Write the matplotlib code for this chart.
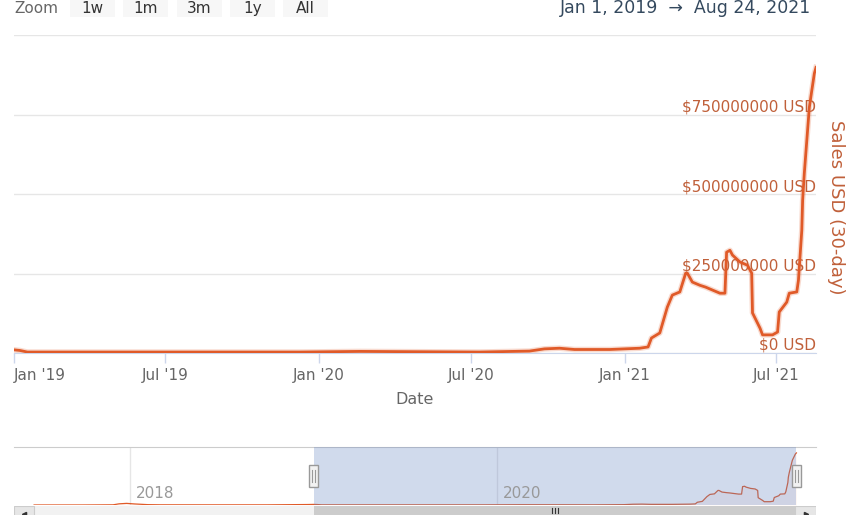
import matplotlib
matplotlib.use("Agg")
import matplotlib.pyplot as plt
import matplotlib.dates as mdates
from matplotlib.patches import Rectangle
import pandas as pd
import numpy as np

plt.rcParams['font.family'] = ['DejaVu Sans']

# ---------------- data (USD millions, 30-day sales) ----------------
main_dates = ["2019-01-01", "2019-01-08", "2019-01-17", "2019-06-01", "2019-12-09",
              "2020-02-19", "2020-07-11", "2020-09-09", "2020-09-27", "2020-10-15",
              "2020-11-02", "2020-12-14", "2021-01-19", "2021-01-29", "2021-02-02",
              "2021-02-12", "2021-02-21", "2021-02-27", "2021-03-08", "2021-03-15",
              "2021-03-17", "2021-03-23", "2021-04-01", "2021-04-08", "2021-04-16",
              "2021-04-25", "2021-05-01", "2021-05-03", "2021-05-07", "2021-05-10",
              "2021-05-19", "2021-05-28", "2021-06-02", "2021-06-03", "2021-06-12",
              "2021-06-15", "2021-06-27", "2021-07-03", "2021-07-05", "2021-07-14",
              "2021-07-17", "2021-07-26", "2021-07-28", "2021-08-01", "2021-08-02",
              "2021-08-04", "2021-08-10", "2021-08-13", "2021-08-16", "2021-08-18"]
main_values = [10, 8, 3, 3, 3,
               5, 3, 6, 13, 15,
               11, 11, 15, 19, 47,
               63, 144, 182, 192, 251,
               251, 223, 213, 207, 198,
               188, 188, 317, 323, 308,
               286, 276, 251, 126, 78,
               57, 57, 66, 129, 160,
               188, 192, 229, 386, 480,
               565, 772, 826, 879, 898]

early_dates = ["2017-06-24", "2017-10-01", "2017-11-28", "2017-12-10", "2017-12-25",
               "2018-01-10", "2018-02-05", "2018-03-01", "2018-06-01", "2018-10-01",
               "2018-12-20"]
early_values = [0.3, 0.5, 3, 20, 28, 18, 6, 3, 2.5, 2.5, 8]

y_ticks = [0, 250, 500, 750]
y_tick_labels = ["$0 USD", "$250000000 USD", "$500000000 USD", "$750000000 USD"]
x_tick_dates = ["2019-01-01", "2019-07-01", "2020-01-01", "2020-07-01", "2021-01-01", "2021-07-01"]
x_tick_labels = ["Jan '19", "Jul '19", "Jan '20", "Jul '20", "Jan '21", "Jul '21"]
nav_tick_dates = ["2018-01-01", "2020-01-01"]
nav_tick_labels = ["2018", "2020"]
zoom_buttons = ["1w", "1m", "3m", "1y", "All"]

view_start, view_end = "2019-01-01", "2021-08-18"
nav_start, nav_end = "2017-05-15", "2021-09-26"

# ---------------- figure ----------------
W, H = 864, 515
fig = plt.figure(figsize=(W / 100, H / 100), dpi=100)


def px(l, t, r, b):
    return [l / W, 1 - b / H, (r - l) / W, (b - t) / H]


LINE = '#e05a28'
LBL = '#c0603a'

md = pd.to_datetime(main_dates)
ax = fig.add_axes(px(14, 35, 816, 353))
ax.plot(md, main_values, color=LINE, lw=4.0, alpha=0.22, solid_joinstyle='round', zorder=3)
ax.plot(md, main_values, color=LINE, lw=2.0, solid_joinstyle='round', zorder=4)
ax.set_xlim(pd.Timestamp(view_start), pd.Timestamp(view_end))
ax.set_ylim(0, 1000)
ax.set_yticks([0, 250, 500, 750, 1000])
ax.tick_params(axis='y', length=0, labelleft=False, labelright=False)
ax.yaxis.grid(True, color='#e6e6e6', lw=1)
ax.set_axisbelow(True)
for s in ['top', 'left', 'right']:
    ax.spines[s].set_visible(False)
ax.spines['bottom'].set_color('#ccd6eb')
ax.set_xticks(pd.to_datetime(x_tick_dates))
ax.set_xticklabels(x_tick_labels)
ax.tick_params(axis='x', length=7, width=1, color='#ccd6eb', labelcolor='#666666',
               labelsize=11, pad=4)
ax.get_xticklabels()[0].set_ha('left')
ax.set_xlabel('Date', fontsize=11.5, color='#666666', labelpad=6)

for v, lab in zip(y_ticks, y_tick_labels):
    ax.annotate(lab, xy=(1, v), xycoords=('axes fraction', 'data'), xytext=(0, 0),
                textcoords='offset points', ha='right', va='bottom', color=LBL, fontsize=11)

fig.text(836 / W, 1 - 207 / H, 'Sales USD (30-day)', rotation=270, ha='center', va='center',
         color=LBL, fontsize=13)

# ---------------- top bar ----------------
fig.text(14 / W, 1 - 13 / H, 'Zoom', ha='left', va='baseline', color='#666666', fontsize=11)
btn_x = [70, 123, 177, 230, 283]
for bx, b in zip(btn_x, zoom_buttons):
    fig.patches.append(Rectangle((bx / W, 1 - 17 / H), 45 / W, 30 / H, transform=fig.transFigure,
                                 facecolor='#f7f7f7', edgecolor='none'))
    fig.text((bx + 22.5) / W, 1 - 13 / H, b, ha='center', va='baseline', color='#333333',
             fontsize=11)
fig.text(811 / W, 1 - 13 / H, 'Jan 1, 2019  \u2192  Aug 24, 2021', ha='right', va='baseline',
         color='#34495e', fontsize=12.5)

# ---------------- navigator ----------------
nd = pd.to_datetime(early_dates + main_dates)
nv = early_values + main_values
nav = fig.add_axes(px(14, 447, 816, 505))
nav.plot(nd, nv, color=LINE, lw=0.9, zorder=2)
nav.fill_between(nd, nv, 0, color=LINE, alpha=0.05, lw=0, zorder=1)
nav.set_xlim(pd.Timestamp(nav_start), pd.Timestamp(nav_end))
nav.set_ylim(0, 1000)
nav.axvspan(pd.Timestamp(view_start), pd.Timestamp(view_end),
            color=(102 / 255, 133 / 255, 194 / 255, 0.3), lw=0, zorder=3)
nav.set_xticks(pd.to_datetime(nav_tick_dates))
nav.set_yticks([])
nav.tick_params(axis='x', length=0, labelbottom=False)
nav.xaxis.grid(True, color='#e6e6e6', lw=1)
nav.set_axisbelow(True)
for s in ['bottom', 'left', 'right']:
    nav.spines[s].set_visible(False)
nav.spines['top'].set_color('#cccccc')
for d, lab in zip(pd.to_datetime(nav_tick_dates), nav_tick_labels):
    nav.annotate(lab, xy=(d, 0), xycoords=('data', 'axes fraction'), xytext=(4, 3),
                 textcoords='offset points', ha='left', va='bottom', color='#999999',
                 fontsize=11, zorder=4)

# handles
fig.canvas.draw()
for d in [view_start, view_end]:
    xpix = nav.transData.transform((mdates.date2num(pd.Timestamp(d)), 0))[0]
    fig.patches.append(Rectangle(((xpix - 4.5) / W, 1 - 487 / H), 9 / W, 22 / H,
                                 transform=fig.transFigure, facecolor='#f2f2f2',
                                 edgecolor='#999999', lw=1, zorder=5))
    for dx in (-1.5, 1.5):
        fig.lines.append(plt.Line2D([(xpix + dx) / W] * 2, [1 - 482 / H, 1 - 470 / H],
                                    transform=fig.transFigure, color='#999999', lw=0.8,
                                    zorder=6))

# scrollbar
sb = fig.add_axes(px(14, 506, 816, 520))
sb.set_xlim(pd.Timestamp(nav_start), pd.Timestamp(nav_end))
sb.set_ylim(0, 1)
sb.set_facecolor('#f2f2f2')
sb.axvspan(pd.Timestamp(view_start), pd.Timestamp(view_end), color='#cccccc', lw=0)
sb.add_patch(Rectangle((0, 0), 20 / 802, 1, transform=sb.transAxes, facecolor='#e6e6e6',
                       edgecolor='#cccccc', lw=0.8))
sb.add_patch(Rectangle((1 - 21 / 802, 0), 21 / 802, 1, transform=sb.transAxes,
                       facecolor='#e6e6e6', edgecolor='#cccccc', lw=0.8))
sb.plot([10 / 802], [0.45], marker='<', ms=3, color='#333333', transform=sb.transAxes)
sb.plot([1 - 10 / 802], [0.45], marker='>', ms=3, color='#333333', transform=sb.transAxes)
vs = mdates.date2num(pd.Timestamp(view_start))
ve = mdates.date2num(pd.Timestamp(view_end))
cpx = sb.transData.transform(((vs + ve) / 2, 0))[0]
for dx in (-3, 0, 3):
    fig.lines.append(plt.Line2D([(cpx + dx) / W] * 2, [1 - 513 / H, 1 - 508 / H],
                                transform=fig.transFigure, color='#333333', lw=0.8))
sb.set_xticks([])
sb.set_yticks([])
for s in sb.spines.values():
    s.set_visible(False)

fig.savefig('out.png', dpi=100)
